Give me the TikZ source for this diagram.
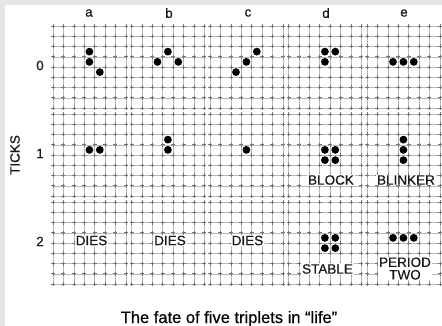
\documentclass[tikz,border=0pt]{standalone}
\usepackage{fontspec}
\setmainfont{Liberation Sans}[BoldFont=Liberation Sans,BoldFeatures={FakeBold=0.5}]
\begin{document}
\begin{tikzpicture}[x=1pt,y=-1pt,
  gridline/.style={draw=black!28,line width=0.45pt},
  tickmark/.style={draw=black!55,line width=0.55pt},
  lbl/.style={font=\fontsize{13.5}{14}\selectfont\bfseries,inner sep=0pt,text=black!90},
  dot/.style={fill=black}]
\useasboundingbox (0,0) rectangle (442,326);
\fill[black!10] (0,0) rectangle (442,326);
\fill[white] (5,5) rectangle (442,326);
% grids
\foreach \i in {0,...,4}{
  \foreach \j in {0,1,2}{
    \pgfmathsetmacro{\xo}{53+78.5*\i}
    \pgfmathsetmacro{\yo}{26+88*\j}
    \foreach \k in {0,...,7}{
      \draw[gridline] ({\xo+10.4*\k},{\yo-1}) -- ({\xo+10.4*\k},{\yo+83});
    }
    \foreach \k in {0,...,8}{
      \draw[gridline] ({\xo-1},{\yo+10.25*\k}) -- ({\xo+73.8},{\yo+10.25*\k});
    }
    \foreach \k in {0,...,7}{
      \foreach \m in {0,...,8}{
        \draw[tickmark] ({\xo+10.4*\k-2},{\yo+10.25*\m}) -- ({\xo+10.4*\k+2},{\yo+10.25*\m})
          ({\xo+10.4*\k},{\yo+10.25*\m-2}) -- ({\xo+10.4*\k},{\yo+10.25*\m+2});
      }
    }
  }
}
% dots: panel i, row j, col c, cellrow r
\newcommand{\lifedot}[4]{\fill[dot] ({53+78.5*#1+10.4*(#3+0.5)},{26+88*#2+10.25*(#4+0.5)}) circle (3.9);}
% tick 0
\lifedot{0}{0}{3}{2}\lifedot{0}{0}{3}{3}\lifedot{0}{0}{4}{4}
\lifedot{1}{0}{3}{2}\lifedot{1}{0}{2}{3}\lifedot{1}{0}{4}{3}
\lifedot{2}{0}{4}{2}\lifedot{2}{0}{3}{3}\lifedot{2}{0}{2}{4}
\lifedot{3}{0}{3}{2}\lifedot{3}{0}{4}{2}\lifedot{3}{0}{3}{3}
\lifedot{4}{0}{2}{3}\lifedot{4}{0}{3}{3}\lifedot{4}{0}{4}{3}
% tick 1
\lifedot{0}{1}{3}{3}\lifedot{0}{1}{4}{3}
\lifedot{1}{1}{3}{2}\lifedot{1}{1}{3}{3}
\lifedot{2}{1}{3}{3}
\lifedot{3}{1}{3}{3}\lifedot{3}{1}{4}{3}\lifedot{3}{1}{3}{4}\lifedot{3}{1}{4}{4}
\lifedot{4}{1}{3}{2}\lifedot{4}{1}{3}{3}\lifedot{4}{1}{3}{4}
% tick 2
\lifedot{3}{2}{3}{3}\lifedot{3}{2}{4}{3}\lifedot{3}{2}{3}{4}\lifedot{3}{2}{4}{4}
\lifedot{4}{2}{2}{3}\lifedot{4}{2}{3}{3}\lifedot{4}{2}{4}{3}
% column labels
\node[lbl] (ca) at (89,13) {a};
\node[lbl] (cb) at (169,13) {b};
\node[lbl] (cc) at (248,13) {c};
\node[lbl] (cd) at (326,13) {d};
\node[lbl] (ce) at (404,13) {e};
% row labels
\node[lbl] (r0) at (40,65.5) {0};
\node[lbl] (r1) at (40,153.5) {1};
\node[lbl] (r2) at (40,241.5) {2};
\node[lbl,rotate=90] (ticks) at (15,155) {TICKS};
% fates
\node[lbl,fill=white,inner sep=0.8pt] (da) at (91.5,240.5) {DIES};
\node[lbl,fill=white,inner sep=0.8pt] (db) at (170,240.5) {DIES};
\node[lbl,fill=white,inner sep=0.8pt] (dc) at (247.5,240.5) {DIES};
\node[lbl,fill=white,inner sep=0.8pt] (block) at (331,180) {BLOCK};
\node[lbl,fill=white,inner sep=0.8pt] (blinker) at (406,180) {BLINKER};
\node[lbl,fill=white,inner sep=0.8pt] (stable) at (327.5,269) {STABLE};
\node[lbl,fill=white,inner sep=0.8pt,align=center] (period) at (405,268.5) {PERIOD\\[-1.5pt]TWO};
% caption
\node[font=\fontsize{16.5}{18}\selectfont\bfseries,inner sep=0pt,anchor=base] (caption) at (229,323) {The fate of five triplets in “life”};
\end{tikzpicture}
\end{document}
